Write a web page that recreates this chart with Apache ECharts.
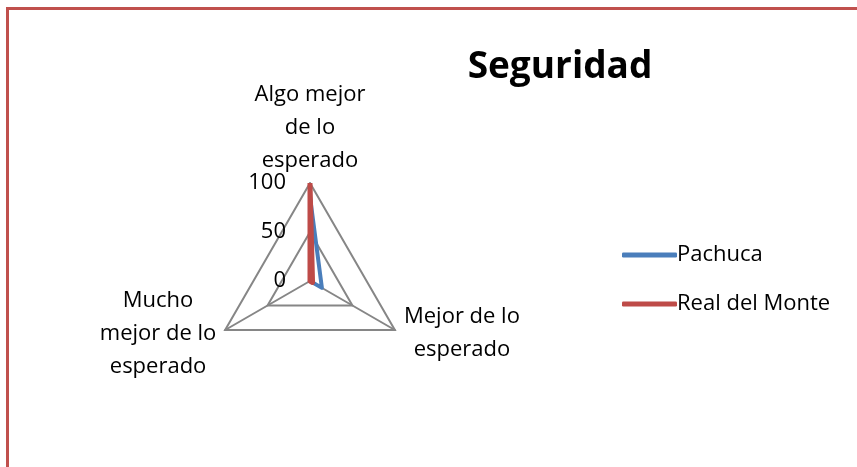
<!DOCTYPE html>
<html>
<head>
<meta charset="utf-8">
<script src="https://cdn.jsdelivr.net/npm/echarts@6/dist/echarts.min.js"></script>
<style>
html,body{margin:0;padding:0;background:#fff;}
#wrap{position:relative;width:857px;height:467px;overflow:hidden;}
#chart{width:857px;height:467px;}
#frame{position:absolute;left:6px;top:7px;width:1000px;height:1000px;border:3px solid #c0504d;pointer-events:none;box-sizing:border-box;}
</style>
</head>
<body>
<div id="wrap"><div id="chart"></div><div id="frame"></div></div>
<script>
var title = 'Seguridad';
var categories = ['Algo mejor de lo esperado', 'Mejor de lo esperado', 'Mucho mejor de lo esperado'];
var categoryLines = [['Algo mejor', 'de lo', 'esperado'], ['Mejor de lo', 'esperado'], ['Mucho', 'mejor de lo', 'esperado']];
var seriesNames = ['Pachuca', 'Real del Monte'];
var pachuca = [86, 14, 0];
var realDelMonte = [100, 3, 0];
var axisMin = 0, axisMax = 100, axisStep = 50;
var seriesColors = ['#4a7ebb', '#be4b48'];

// ECharts radar goes counter-clockwise; Excel goes clockwise
var order = [0, 2, 1];
var font = 'Open Sans';
var indicators = order.map(function (i, k) {
  var ind = { name: categories[i], min: axisMin, max: axisMax };
  ind.axisLabel = { show: k === 0 };
  return ind;
});
function reorder(arr) { return order.map(function (i) { return arr[i]; }); }
var nameMap = {};
categories.forEach(function (c, i) { nameMap[c] = categoryLines[i]; });

var chart = echarts.init(document.getElementById('chart'), null, { renderer: 'canvas' });
chart.setOption({
  animation: false,
  backgroundColor: '#fff',
  title: {
    text: title, left: 555, top: 62, textAlign: 'center', textVerticalAlign: 'middle',
    textStyle: { fontFamily: font, fontWeight: 'bold', fontSize: 37, color: '#000' }
  },
  legend: {
    orient: 'vertical', left: 617, top: 237, itemGap: 23,
    itemWidth: 55, itemHeight: 5, icon: 'roundRect',
    textStyle: { fontFamily: font, fontSize: 22, color: '#000', lineHeight: 26, padding: [0, 0, 0, -5] },
    data: seriesNames
  },
  radar: {
    center: [310, 281], radius: 98, shape: 'polygon', splitNumber: (axisMax - axisMin) / axisStep,
    indicator: indicators,
    nameGap: 7,
    axisName: {
      color: '#000', fontFamily: font, fontSize: 22, lineHeight: 33,
      padding: [-6, 0, -6, 0],
      formatter: function (n) {
        return nameMap[n].map(function (l) { return '{a|' + l + '}'; }).join('\n');
      },
      rich: {
        a: { width: 122, align: 'center', fontFamily: font, fontSize: 22, lineHeight: 33, color: '#000' }
      }
    },
    axisLine: { lineStyle: { color: '#868686', width: 2 } },
    splitLine: { lineStyle: { color: '#868686', width: 2 } },
    splitArea: { show: false },
    axisTick: { show: false },
    axisLabel: { show: false, color: '#000', fontFamily: font, fontSize: 22, margin: 24 }
  },
  series: [{
    type: 'radar',
    symbol: 'none',
    data: [
      { name: seriesNames[0], value: reorder(pachuca), lineStyle: { color: seriesColors[0], width: 4 }, itemStyle: { color: seriesColors[0] } },
      { name: seriesNames[1], value: reorder(realDelMonte), lineStyle: { color: seriesColors[1], width: 5 }, itemStyle: { color: seriesColors[1] } }
    ]
  }]
});
</script>
</body>
</html>
